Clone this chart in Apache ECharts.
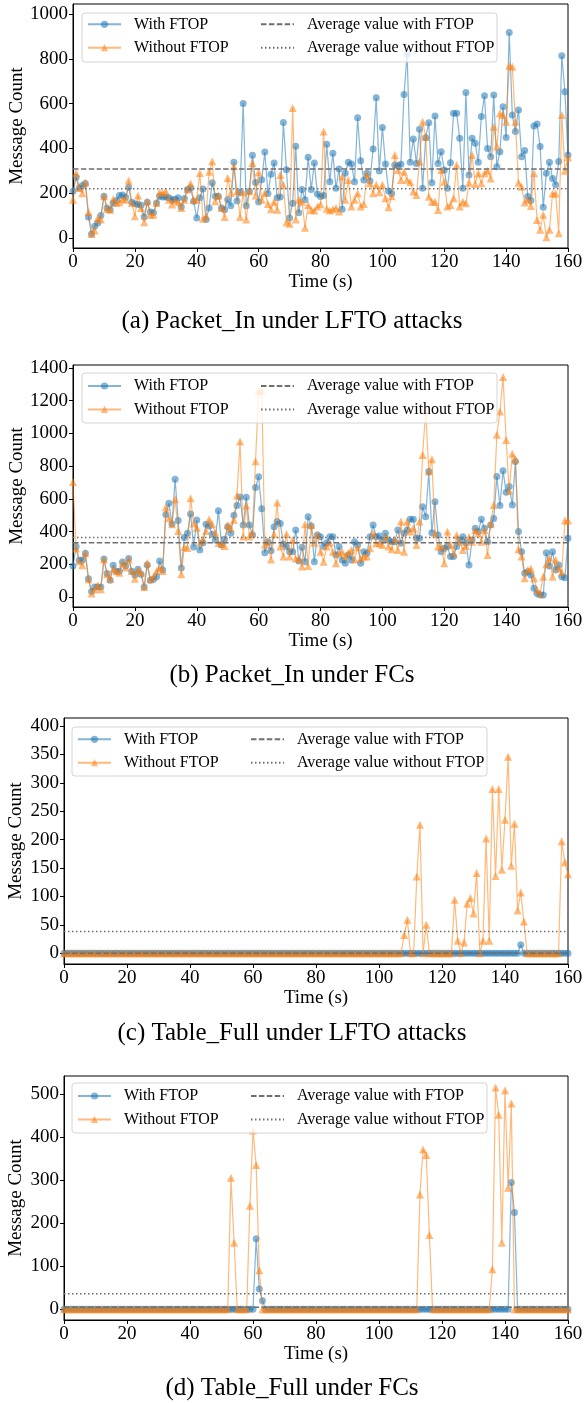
<!DOCTYPE html>
<html>
<head>
<meta charset="utf-8">
<script src="https://cdn.jsdelivr.net/npm/echarts@6/dist/echarts.min.js"></script>
<style>
  html, body { margin: 0; padding: 0; background: #fff; }
  #chart { width: 584px; height: 1403px; }
</style>
</head>
<body>
<div id="chart"></div>
<script>
// one sample per second, 0 .. 160 s
const xTicks = [0, 20, 40, 60, 80, 100, 120, 140, 160];

// (a) Packet_In under LFTO attacks
const pinLftoWith = [
  208, 271, 223, 234, 243, 94, 18, 52, 67, 100,
  186, 134, 126, 156, 167, 189, 192, 182, 226, 159,
  153, 149, 146, 94, 159, 116, 112, 156, 186, 183,
  183, 179, 170, 173, 179, 138, 176, 216, 223, 164,
  89, 179, 219, 82, 134, 247, 186, 186, 134, 126,
  171, 144, 338, 165, 204, 601, 144, 208, 369, 248,
  161, 260, 384, 198, 284, 335, 179, 183, 516, 305,
  89, 155, 409, 112, 216, 171, 360, 216, 335, 196,
  185, 190, 418, 251, 378, 222, 308, 128, 289, 338,
  330, 251, 537, 345, 259, 289, 254, 397, 626, 299,
  493, 330, 210, 199, 326, 322, 329, 641, 820, 338,
  442, 333, 485, 222, 448, 515, 247, 545, 333, 385,
  304, 222, 336, 557, 557, 445, 222, 650, 281, 445,
  423, 338, 542, 635, 400, 363, 638, 318, 385, 586,
  449, 918, 549, 475, 571, 363, 390, 185, 167, 500,
  509, 408, 137, 289, 338, 266, 237, 341, 814, 653,
  370
];
const pinLftoWithout = [
  171, 290, 223, 200, 248, 116, 18, 33, 89, 82,
  186, 129, 126, 174, 156, 159, 174, 171, 256, 156,
  97, 190, 134, 70, 164, 104, 104, 156, 204, 201,
  208, 171, 149, 167, 159, 134, 171, 216, 243, 171,
  171, 290, 86, 97, 296, 342, 164, 189, 134, 94,
  268, 201, 320, 208, 94, 204, 82, 208, 335, 190,
  293, 171, 201, 152, 128, 162, 126, 281, 237, 70,
  63, 580, 82, 171, 162, 46, 147, 125, 122, 140,
  150, 475, 130, 122, 128, 134, 118, 274, 170, 259,
  140, 170, 200, 140, 152, 284, 244, 200, 237, 204,
  238, 177, 137, 186, 370, 304, 259, 296, 260, 250,
  207, 192, 341, 519, 452, 184, 162, 162, 125, 304,
  251, 140, 147, 177, 326, 140, 162, 155, 247, 370,
  241, 289, 244, 289, 300, 266, 497, 408, 557, 549,
  519, 769, 765, 519, 247, 229, 158, 170, 143, 289,
  80, 36, 103, 3, 36, 199, 199, 21, 549, 300,
  360
];
const pinLftoAvg = [308, 220];

// (b) Packet_In under FCs
const pinFcWith = [
  190, 308, 224, 224, 267, 112, 33, 61, 61, 61,
  232, 143, 102, 194, 157, 157, 214, 190, 236, 157,
  135, 169, 139, 61, 196, 102, 108, 124, 220, 165,
  504, 573, 446, 720, 467, 177, 363, 389, 508, 306,
  471, 287, 332, 444, 434, 383, 348, 528, 318, 353,
  430, 390, 500, 560, 612, 440, 610, 440, 380, 670,
  735, 540, 271, 338, 283, 430, 461, 450, 324, 308,
  277, 277, 410, 220, 304, 216, 491, 434, 216, 379,
  369, 308, 332, 369, 369, 257, 308, 226, 206, 257,
  226, 338, 318, 206, 277, 267, 369, 440, 369, 373,
  349, 389, 349, 338, 338, 410, 328, 389, 410, 475,
  475, 359, 359, 552, 491, 767, 393, 583, 379, 277,
  298, 308, 247, 247, 308, 349, 369, 332, 196, 349,
  420, 400, 475, 420, 338, 440, 480, 736, 560, 771,
  640, 675, 563, 828, 400, 277, 145, 155, 135, 53,
  22, 12, 12, 271, 190, 277, 165, 196, 124, 118,
  359
];
const pinFcWithout = [
  703, 296, 218, 194, 267, 108, 22, 47, 71, 47,
  230, 139, 112, 173, 157, 149, 206, 180, 230, 159,
  112, 165, 149, 61, 210, 108, 124, 159, 179, 159,
  548, 481, 444, 597, 404, 139, 306, 300, 604, 450,
  424, 332, 352, 404, 475, 444, 393, 330, 325, 312,
  440, 420, 470, 620, 950, 370, 560, 370, 390, 830,
  1260, 1260, 320, 338, 230, 383, 577, 308, 247, 385,
  247, 349, 236, 236, 186, 444, 190, 440, 332, 379,
  277, 216, 308, 332, 277, 206, 267, 277, 247, 271,
  287, 230, 304, 236, 247, 247, 298, 389, 328, 328,
  318, 369, 308, 292, 352, 287, 461, 277, 461, 400,
  420, 318, 461, 868, 1140, 767, 842, 389, 308, 308,
  206, 400, 318, 267, 379, 338, 287, 312, 369, 338,
  410, 389, 338, 410, 257, 450, 563, 991, 1134, 1345,
  960, 648, 875, 842, 292, 247, 114, 165, 175, 114,
  43, 22, 124, 200, 240, 124, 228, 175, 150, 467,
  467
];
const pinFcAvg = [332, 363];

// (c) Table_Full under LFTO attacks: every second not listed is 0
const tfLftoWithSec = [145];
const tfLftoWithVal = [15];
const tfLftoWithoutSec = [108, 109, 112, 113, 115, 124, 125, 127, 128, 129, 130, 131, 133, 134, 135,
  136, 137, 138, 139, 140, 141, 142, 143, 144, 145, 146, 158, 159, 160];
const tfLftoWithoutVal = [32, 59, 135, 226, 50, 94, 22, 19, 87, 97, 70, 141, 22, 202, 22,
  289, 136, 289, 147, 235, 346, 154, 228, 75, 107, 56, 197, 160, 139];
const tfLftoAvg = [0.1, 38];

// (d) Table_Full under FCs
const tfFcWithSec = [61, 62, 63, 142, 143];
const tfFcWithVal = [164, 47, 20, 295, 225];
const tfFcWithoutSec = [53, 54, 59, 60, 61, 62, 113, 114, 115, 116, 136, 137, 138, 139, 140, 141, 142];
const tfFcWithoutVal = [306, 155, 241, 416, 336, 91, 267, 372, 359, 173, 93, 516, 453, 155, 510, 283, 479];
const tfFcAvg = [4.6, 36];

const yTicksA = [0, 200, 400, 600, 800, 1000];
const yTicksB = [0, 200, 400, 600, 800, 1000, 1200, 1400];
const yTicksC = [0, 50, 100, 150, 200, 250, 300, 350, 400];
const yTicksD = [0, 100, 200, 300, 400, 500];

function bySecond(vals) {
  return vals.map((v, i) => [i, v]);
}
function sparse(secs, vals) {
  const out = [];
  for (let s = 0; s <= 160; s++) {
    const k = secs.indexOf(s);
    out.push([s, k < 0 ? 0 : vals[k]]);
  }
  return out;
}

const serif = '"Liberation Serif", "DejaVu Serif", serif';
const blue = '#1f77b4';
const orange = '#ff7f0e';
const avgColor = '#6e6e6e';

const panels = [
  { caption: '(a) Packet_In under LFTO attacks', capTop: 304,
    grid: { left: 73, top: 4, width: 495, height: 244 }, yMin: -45, yMax: 1045, ticks: yTicksA, nameGap: 46,
    withD: bySecond(pinLftoWith), withoutD: bySecond(pinLftoWithout), avg: pinLftoAvg,
    box: [82, 13, 415, 49], row: 24.3 },
  { caption: '(b) Packet_In under FCs', capTop: 658,
    grid: { left: 73, top: 365, width: 495, height: 242 }, yMin: -61, yMax: 1418, ticks: yTicksB, nameGap: 46,
    withD: bySecond(pinFcWith), withoutD: bySecond(pinFcWithout), avg: pinFcAvg,
    box: [82, 373, 415, 50], row: 386 },
  { caption: '(c) Table_Full under LFTO attacks', capTop: 1016,
    grid: { left: 64, top: 718, width: 504, height: 246 }, yMin: -19, yMax: 414, ticks: yTicksC, nameGap: 38,
    withD: sparse(tfLftoWithSec, tfLftoWithVal), withoutD: sparse(tfLftoWithoutSec, tfLftoWithoutVal), avg: tfLftoAvg,
    box: [72, 727, 415, 49], row: 739.3 },
  { caption: '(d) Table_Full under FCs', capTop: 1371,
    grid: { left: 64, top: 1076, width: 504, height: 244 }, yMin: -25, yMax: 543, ticks: yTicksD, nameGap: 38,
    withD: sparse(tfFcWithSec, tfFcWithVal), withoutD: sparse(tfFcWithoutSec, tfFcWithoutVal), avg: tfFcAvg,
    box: [72, 1083, 415, 50], row: 1096 }
];

const labelStyle = { color: '#000', fontFamily: serif, fontSize: 19 };
const grids = [], xAxes = [], yAxes = [], series = [], legends = [], titles = [], boxes = [];

panels.forEach(function (p, i) {
  grids.push(Object.assign({ show: true, borderColor: '#000', borderWidth: 1, outerBoundsMode: 'none', containLabel: false }, p.grid));
  xAxes.push({
    type: 'value', gridIndex: i, min: 0, max: 160, interval: 20,
    name: 'Time (s)', nameLocation: 'middle', nameGap: 25, nameMoveOverlap: false, nameTextStyle: labelStyle,
    axisLine: { show: true, onZero: false, lineStyle: { color: '#000', width: 1 } },
    axisTick: { show: true, length: 4, lineStyle: { color: '#000' } },
    axisLabel: Object.assign({ margin: 5, formatter: v => String(v) }, labelStyle),
    splitLine: { show: false }
  });
  yAxes.push({
    type: 'value', gridIndex: i, min: p.yMin, max: p.yMax,
    name: 'Message Count', nameLocation: 'middle', nameGap: p.nameGap, nameMoveOverlap: false, nameTextStyle: labelStyle,
    axisLine: { show: true, onZero: false, lineStyle: { color: '#000', width: 1 } },
    axisTick: { show: true, length: 4, customValues: p.ticks, lineStyle: { color: '#000' } },
    axisLabel: Object.assign({ margin: 5, customValues: p.ticks, formatter: v => String(v) }, labelStyle),
    splitLine: { show: false }
  });
  series.push({
    name: 'With FTOP', type: 'line', xAxisIndex: i, yAxisIndex: i, data: p.withD,
    symbol: 'circle', symbolSize: 7, color: blue,
    lineStyle: { width: 1.2, opacity: 0.55 }, itemStyle: { opacity: 0.55 }, z: 2
  });
  series.push({
    name: 'Without FTOP', type: 'line', xAxisIndex: i, yAxisIndex: i, data: p.withoutD,
    symbol: 'triangle', symbolSize: 8, color: orange,
    lineStyle: { width: 1.2, opacity: 0.55 }, itemStyle: { opacity: 0.55 }, z: 3
  });
  series.push({
    name: 'Average value with FTOP', type: 'line', xAxisIndex: i, yAxisIndex: i,
    data: [[0, p.avg[0]], [160, p.avg[0]]], symbol: 'none', color: avgColor,
    lineStyle: { width: 1.5, type: [5.5, 2.4] }, z: 4
  });
  series.push({
    name: 'Average value without FTOP', type: 'line', xAxisIndex: i, yAxisIndex: i,
    data: [[0, p.avg[1]], [160, p.avg[1]]], symbol: 'none', color: avgColor,
    lineStyle: { width: 1.5, type: [1.5, 2.5] }, z: 4
  });

  const legendBase = {
    orient: 'vertical', top: p.row - 8, itemWidth: 33, itemHeight: 9, itemGap: 7.4, padding: 0,
    textStyle: { fontFamily: serif, fontSize: 16, color: '#000', lineHeight: 16, padding: [0, 0, 0, 8] },
    selectedMode: false, z: 6
  };
  legends.push(Object.assign({}, legendBase, { left: p.box[0] + 5, data: ['With FTOP', 'Without FTOP'] }));
  legends.push(Object.assign({}, legendBase, {
    left: p.box[0] + 178,
    data: [
      { name: 'Average value with FTOP', itemStyle: { opacity: 0 } },
      { name: 'Average value without FTOP', itemStyle: { opacity: 0 } }
    ]
  }));

  boxes.push({
    type: 'rect', z: 5,
    shape: { x: p.box[0], y: p.box[1], width: p.box[2], height: p.box[3], r: 3 },
    style: { fill: 'rgba(255,255,255,0.8)', stroke: '#d4d4d4', lineWidth: 1 }
  });

  titles.push({
    text: p.caption, left: 'center', top: p.capTop,
    textStyle: { fontFamily: serif, fontSize: 25, fontWeight: 'normal', color: '#000' }
  });
});

const chart = echarts.init(document.getElementById('chart'), null, { renderer: 'canvas' });
chart.setOption({
  animation: false,
  backgroundColor: '#fff',
  title: titles,
  legend: legends,
  grid: grids,
  xAxis: xAxes,
  yAxis: yAxes,
  graphic: boxes,
  series: series
});
</script>
</body>
</html>
